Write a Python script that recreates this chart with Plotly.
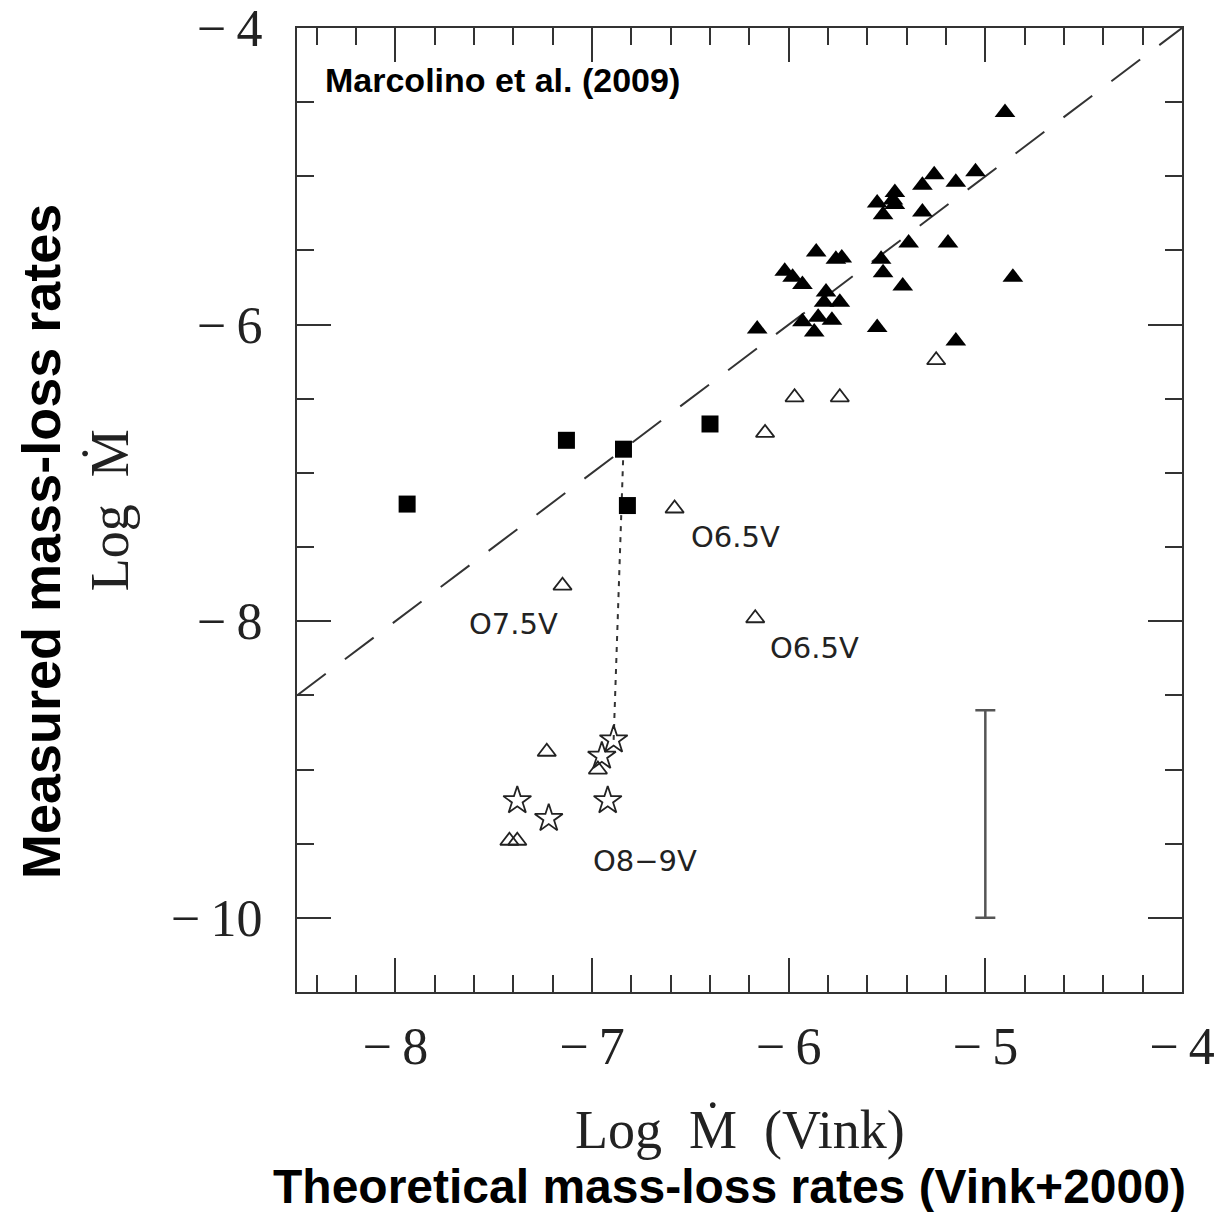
import plotly.graph_objects as go

# ---- data ----
sq_x = [-7.94, -7.13, -6.84, -6.82, -6.40]
sq_y = [-7.21, -6.78, -6.84, -7.22, -6.67]

ftri_x = [-4.90, -5.26, -5.32, -5.15, -5.05, -5.46, -5.47, -5.55, -5.46, -5.52, -5.32,
          -5.39, -5.19, -5.86, -5.76, -5.73, -5.53, -5.52, -5.42, -4.86, -6.02, -5.98,
          -5.93, -5.81, -5.82, -5.74, -5.93, -5.85, -5.78, -5.87, -6.16, -5.55, -5.15]
ftri_y = [-4.57, -4.99, -5.06, -5.04, -4.97, -5.11, -5.16, -5.18, -5.19, -5.26, -5.24,
          -5.45, -5.45, -5.51, -5.56, -5.55, -5.56, -5.65, -5.74, -5.68, -5.64, -5.68,
          -5.73, -5.78, -5.85, -5.85, -5.98, -5.95, -5.97, -6.05, -6.03, -6.02, -6.11]

otri_x = [-7.23, -6.97, -7.42, -7.38, -7.15, -6.58, -5.25, -5.97, -5.74, -6.12, -6.17]
otri_y = [-8.88, -9.00, -9.48, -9.48, -7.76, -7.24, -6.24, -6.49, -6.49, -6.73, -7.98]

star_x = [-6.89, -6.95, -7.38, -7.22, -6.92]
star_y = [-8.80, -8.91, -9.21, -9.33, -9.21]

link_x = [-6.84, -6.89]
link_y = [-6.84, -8.80]

one2one = [-8.5, -4.0]

err_x = [-5.0]
err_lo, err_hi = -10.0, -8.6

labels = ["O6.5V", "O7.5V", "O6.5V", "O8\u22129V"]
label_x = [-6.27, -7.40, -5.87, -6.73]
label_y = [-7.43, -8.02, -8.18, -9.62]

xticks = [-8, -7, -6, -5, -4]
yticks = [-4, -6, -8, -10]


def fmt(v):
    return "\u2212" + "\u2009" + str(abs(v))


ink = "#222222"
fig = go.Figure()

fig.add_trace(go.Scatter(x=one2one, y=one2one, mode="lines",
                         line=dict(color="#333", width=2, dash="36px,24px"),
                         showlegend=False, hoverinfo="skip"))
fig.add_trace(go.Scatter(x=link_x, y=link_y, mode="lines",
                         line=dict(color="#333", width=2, dash="5px,6px"),
                         showlegend=False, hoverinfo="skip"))
fig.add_trace(go.Scatter(x=sq_x, y=sq_y, mode="markers",
                         marker=dict(symbol="square", size=17, color="black"),
                         showlegend=False))
fig.add_trace(go.Scatter(x=ftri_x, y=ftri_y, mode="markers",
                         marker=dict(symbol="triangle-up", size=18, color="black"),
                         showlegend=False))
fig.add_trace(go.Scatter(x=otri_x, y=otri_y, mode="markers",
                         marker=dict(symbol="triangle-up-open", size=16, color=ink,
                                     line=dict(width=1.8, color=ink)),
                         showlegend=False))
fig.add_trace(go.Scatter(x=star_x, y=star_y, mode="markers",
                         marker=dict(symbol="star-open", size=21, color=ink,
                                     line=dict(width=1.8, color=ink)),
                         showlegend=False))
mid = (err_lo + err_hi) / 2
half = (err_hi - err_lo) / 2
fig.add_trace(go.Scatter(x=err_x, y=[mid], mode="markers",
                         marker=dict(size=1, color="rgba(0,0,0,0)"),
                         error_y=dict(type="data", array=[half], visible=True,
                                      color="#555", thickness=2.5, width=10),
                         showlegend=False, hoverinfo="skip"))

for t, lx, ly in zip(labels, label_x, label_y):
    fig.add_annotation(x=lx, y=ly, text=t, showarrow=False,
                       font=dict(family="DejaVu Sans", size=29, color=ink),
                       xanchor="center", yanchor="middle")

fig.add_annotation(xref="paper", yref="paper", x=0.029, y=0.946, text="<b>Marcolino et al. (2009)</b>",
                   showarrow=False, xanchor="left", yanchor="middle",
                   font=dict(family="Liberation Sans", size=34, color="black"))

# axis titles
fig.add_annotation(xref="paper", yref="paper", x=0.5, y=-0.143,
                   text="Log\u2002\u1E40\u2002(Vink)", showarrow=False, xanchor="center", yanchor="middle",
                   font=dict(family="Liberation Serif", size=54, color=ink))
fig.add_annotation(xref="paper", yref="paper", x=0.489, y=-0.202,
                   text="<b>Theoretical mass-loss rates (Vink+2000)</b>", showarrow=False,
                   xanchor="center", yanchor="middle",
                   font=dict(family="Liberation Sans", size=48, color="black"))
fig.add_annotation(xref="paper", yref="paper", x=-0.211, y=0.5,
                   text="Log\u2002\u1E40", showarrow=False, textangle=-90, xanchor="center", yanchor="middle",
                   font=dict(family="Liberation Serif", size=54, color=ink))
fig.add_annotation(xref="paper", yref="paper", x=-0.289, y=0.467,
                   text="<b>Measured mass-loss rates</b>", showarrow=False, textangle=-90,
                   xanchor="center", yanchor="middle",
                   font=dict(family="Liberation Sans", size=54, color="black"))

axis_common = dict(showgrid=False, zeroline=False, showline=True, linecolor="#333", linewidth=2,
                   mirror="ticks", ticks="inside", ticklen=34, tickwidth=2, tickcolor="#333",
                   automargin=False,
                   tickfont=dict(family="Liberation Serif", size=52, color=ink))

fig.update_xaxes(range=[-8.5, -4], tickvals=xticks, ticktext=[fmt(v) for v in xticks],
                 minor=dict(dtick=0.2, tick0=-8, ticks="inside", ticklen=17, tickwidth=2, tickcolor="#333"),
                 ticklabelstandoff=8, **axis_common)
fig.update_yaxes(range=[-10.5, -4], tickvals=yticks, ticktext=[fmt(v) for v in yticks],
                 minor=dict(dtick=0.5, tick0=-4, ticks="inside", ticklen=17, tickwidth=2, tickcolor="#333"),
                 ticklabelstandoff=22, **axis_common)

fig.update_layout(width=1220, height=1212, margin=dict(l=297, r=38, t=28, b=220),
                  plot_bgcolor="white", paper_bgcolor="white")

fig.write_html("out.html")
